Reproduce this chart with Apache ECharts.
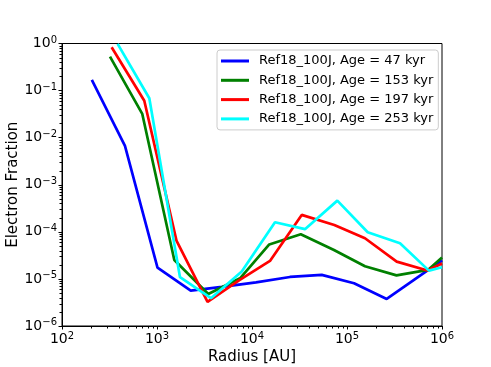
<!DOCTYPE html>
<html><head><meta charset="utf-8">
<script src="https://cdn.jsdelivr.net/npm/echarts@6/dist/echarts.min.js"></script>
<style>html,body{margin:0;padding:0;background:#fff}#c{width:491px;height:367px}</style>
</head><body><div id="c"></div>
<script>
// ---- data ----
const seriesNames = ['Ref18_100J, Age = 47 kyr','Ref18_100J, Age = 153 kyr','Ref18_100J, Age = 197 kyr','Ref18_100J, Age = 253 kyr'];
const seriesColors = ['#0000ff','#008000','#ff0000','#00ffff'];

const radius47  = [206, 460, 1012, 2265, 4830, 11010, 25100, 54200, 118600, 261800, 572700, 1000000];
const frac47    = [0.168, 0.00667, 1.74e-5, 5.65e-6, 6.76e-6, 8.43e-6, 1.10e-5, 1.22e-5, 8.1e-6, 3.76e-6, 1.13e-5, 2.47e-5];

const radius153 = [320, 700, 1521, 3467, 7480, 15200, 32600, 72900, 154600, 332000, 712000, 1000000];
const frac153   = [0.525, 0.0319, 2.53e-5, 4.8e-6, 1.03e-5, 5.4e-5, 8.9e-5, 4.1e-5, 1.86e-5, 1.19e-5, 1.55e-5, 2.86e-5];

const radius197 = [333, 735, 1603, 3404, 7300, 15460, 33350, 73500, 154600, 333600, 703000, 1000000];
const frac197   = [0.83, 0.061, 6.5e-5, 3.25e-6, 9.3e-6, 2.41e-5, 2.29e-4, 1.40e-4, 7.3e-5, 2.33e-5, 1.51e-5, 2.13e-5];

const radius253 = [385, 830, 1746, 3700, 7800, 17460, 36100, 79100, 165200, 361400, 729000, 1000000];
const frac253   = [0.98, 0.0687, 1.09e-5, 3.9e-6, 1.43e-5, 1.6e-4, 1.14e-4, 4.6e-4, 9.8e-5, 5.7e-5, 1.5e-5, 1.77e-5];

const xTicks = [1e2, 1e3, 1e4, 1e5, 1e6];
const yTicks = [1e-6, 1e-5, 1e-4, 1e-3, 1e-2, 1e-1, 1e0];
const minorMultipliers = [2, 3, 4, 5, 6, 7, 8, 9];
const xTitle = 'Radius [AU]';
const yTitle = 'Electron Fraction';

// ---- chart ----
const radii = [radius47, radius153, radius197, radius253];
const fracs = [frac47, frac153, frac197, frac253];
const FONT = 'DejaVu Sans';
const X0 = xTicks[0], X1 = xTicks[xTicks.length-1];
const Y0 = yTicks[0], Y1 = yTicks[yTicks.length-1];

function minorValues(ticks){
  const out = [];
  for (let i = 0; i < ticks.length - 1; i++) minorMultipliers.forEach(m => out.push(ticks[i] * m));
  return out;
}
const xMinor = minorValues(xTicks);
const yMinor = minorValues(yTicks);

function pow10Label(v){
  const e = Math.round(Math.log10(v));
  return '10{s|' + String(e).replace('-', '\u2212') + '}';
}
const rich = { s: { fontSize: 10, fontFamily: FONT, color: '#000', verticalAlign: 'top', padding: [0,0,7,0] } };

function minorTickSeries(axis){
  const data = axis === 'x' ? xMinor.map(v => [v, Y0]) : yMinor.map(v => [X0, v]);
  return {
    name: 'minor-' + axis,
    type: 'custom', silent: true, clip: false, z: 10,
    encode: { x: 0, y: 1 },
    data: data,
    renderItem: function(params, api){
      const p = api.coord([api.value(0), api.value(1)]);
      const shape = axis === 'x'
        ? { x1: Math.round(p[0]) + 0.5, y1: p[1], x2: Math.round(p[0]) + 0.5, y2: p[1] + 2.5 }
        : { x1: p[0], y1: Math.round(p[1]) + 0.5, x2: p[0] - 2.5, y2: Math.round(p[1]) + 0.5 };
      return { type: 'line', shape: shape, style: { stroke: '#000', lineWidth: 1, fill: null } };
    }
  };
}

const chart = echarts.init(document.getElementById('c'), null, {renderer: 'canvas'});
chart.setOption({
  animation: false,
  backgroundColor: '#fff',
  grid: { left: 62, right: 49, top: 43.5, bottom: 41, outerBoundsMode: 'none', containLabel: false,
          show: true, borderColor: '#000', borderWidth: 1, backgroundColor: 'transparent' },
  legend: {
    orient: 'vertical', left: 217, top: 50,
    data: seriesNames,
    icon: 'rect', itemWidth: 28, itemHeight: 3, itemGap: 3.3,
    padding: [3, 5, 3, 4],
    borderColor: '#cccccc', borderWidth: 1, borderRadius: 3, backgroundColor: 'rgba(255,255,255,0.8)',
    textStyle: { fontFamily: FONT, fontSize: 13, color: '#000', lineHeight: 16, padding: [0,0,0,5] }
  },
  xAxis: {
    type: 'log', logBase: 10, min: X0, max: X1,
    name: xTitle, nameLocation: 'middle', nameGap: 24, nameMoveOverlap: false,
    nameTextStyle: { fontFamily: FONT, fontSize: 15, color: '#000' },
    axisLine: { show: true, lineStyle: { color: '#000', width: 1 } },
    axisTick: { show: true, inside: false, length: 3.5, lineStyle: { color: '#000', width: 1 } },
    splitLine: { show: false },
    axisLabel: { formatter: pow10Label, rich: rich, fontFamily: FONT, fontSize: 14, color: '#000', margin: 5 }
  },
  yAxis: {
    type: 'log', logBase: 10, min: Y0, max: Y1,
    name: yTitle, nameLocation: 'middle', nameGap: 41, nameMoveOverlap: false,
    nameTextStyle: { fontFamily: FONT, fontSize: 15, color: '#000' },
    axisLine: { show: true, lineStyle: { color: '#000', width: 1 } },
    axisTick: { show: true, inside: false, length: 3.5, lineStyle: { color: '#000', width: 1 } },
    splitLine: { show: false },
    axisLabel: { formatter: pow10Label, rich: rich, fontFamily: FONT, fontSize: 14, color: '#000', margin: 5 }
  },
  series: seriesNames.map((n, i) => ({
    name: n, type: 'line', showSymbol: false, symbol: 'none',
    color: seriesColors[i],
    lineStyle: { color: seriesColors[i], width: 2.7 },
    clip: true,
    data: radii[i].map((r, j) => [r, fracs[i][j]])
  })).concat([minorTickSeries('x'), minorTickSeries('y')])
});
</script></body></html>
